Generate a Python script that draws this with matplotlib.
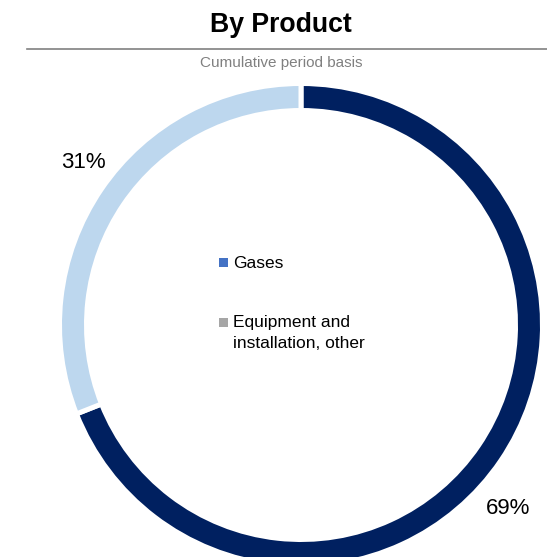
import matplotlib.pyplot as plt
from matplotlib.patches import Rectangle

plt.rcParams['font.family'] = ['Liberation Sans', 'DejaVu Sans']

# share of sales by product
categories = ['Gases', 'Equipment and\ninstallation, other']
shares = [69, 31]
ring_colors = ['#002060', '#BDD7EE']
legend_colors = ['#4472C4', '#A6A6A6']

W, H = 547, 557
fig = plt.figure(figsize=(W / 100, H / 100), dpi=100)
ax = fig.add_axes([0, 0, 1, 1])
ax.set_xlim(0, W)
ax.set_ylim(H, 0)
ax.axis('off')

# title block
ax.text(281, 25, 'By Product', ha='center', va='center', fontsize=19.2,
        fontweight='bold', color='black')
ax.plot([27, W], [48.5, 48.5], color='#808080', lw=1.2)
ax.text(281, 63, 'Cumulative period basis', ha='center', va='center',
        fontsize=11, color='#808080')

# donut - separate axes in data units so the ring stays round
# (white edge eats ~2.5px on each side, so radius/width are padded)
cx, cy, r, ring_w = 301, 325, 241.5, 27
pie_ax = fig.add_axes([0, 0, 1, 1])
pie_ax.set_zorder(0)
ax.set_zorder(1)
ax.patch.set_visible(False)
pie_ax.pie(shares, colors=ring_colors, startangle=90, counterclock=False,
           center=(cx, H - cy), radius=r, frame=True,
           wedgeprops=dict(width=ring_w, edgecolor='white', linewidth=3.6))
pie_ax.set_xlim(0, W)
pie_ax.set_ylim(0, H)
pie_ax.axis('off')

# percentage labels
label_pos = [(508, 508), (83, 163)]
for val, (lx, ly) in zip(shares, label_pos):
    ax.text(lx, ly, '%d%%' % val, ha='center', va='center', fontsize=16,
            color='black')

# legend in the hole
legend_y = [262.5, 322.5]
for name, col, ly in zip(categories, legend_colors, legend_y):
    ax.add_patch(Rectangle((219, ly - 4.5), 9, 9, facecolor=col, edgecolor='none'))
    ax.text(233, ly - 7, name, ha='left', va='top', fontsize=12.5,
            color='black', linespacing=1.42)

fig.savefig('out.png', dpi=100)
